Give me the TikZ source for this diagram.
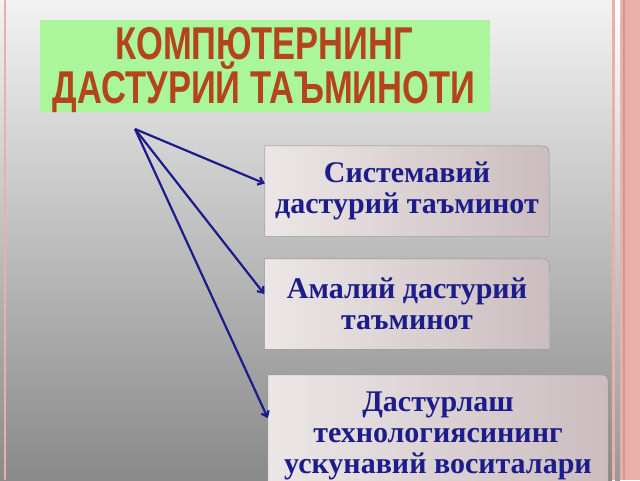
\documentclass[tikz,border=0pt]{standalone}
\usepackage{fontspec}
\setmainfont{Liberation Serif}
\newfontfamily\titlefont{Liberation Sans}
\usetikzlibrary{arrows.meta,backgrounds}

\definecolor{navy}{HTML}{1C1C8A}
\definecolor{rust}{HTML}{B4441B}
\definecolor{titlegreen}{HTML}{ABF59B}
\definecolor{rim}{HTML}{E8B0A8}
\definecolor{rimdark}{HTML}{D8948C}
\definecolor{boxlight}{HTML}{ECE6E7}
\definecolor{boxdark}{HTML}{CBBDBF}

\tikzset{
  card/.style={minimum width=#1, align=center, inner sep=0pt, text=navy,
    font=\bfseries\fontsize{30}{31}\selectfont},
  link/.style={navy, line width=2.2pt, -{Straight Barb[length=5pt,width=8pt]}},
}

\newcommand\cardpath[1]{(#1.south west) -- (#1.north west) -- ([shift={(-14,0)}]#1.north east)
  .. controls (#1.north east) .. ([shift={(0,14)}]#1.north east) -- (#1.south east) -- cycle}

\begin{document}
\begin{tikzpicture}[x=1pt,y=-1pt]
	\useasboundingbox (0,0) rectangle (640,480);
	\clip (0,0) rectangle (640,480);
		\node[card=284pt, minimum height=90pt] (sys) at (407,191) {Системавий\\дастурий таъминот};
		\node[card=285pt, minimum height=90pt] (app) at (407,304) {Амалий дастурий\\таъминот};
		\node[card=340pt, minimum height=122pt] (tool) at (438,436) {Дастурлаш\\технологиясининг\\ускунавий воситалари};
		\begin{scope}[on background layer]
			\shade[top color=black!5!white, bottom color=black!46] (0,0) rectangle (612,480);
			\fill[rim] (612,0) rectangle (640,480);
			\shade[top color=white, bottom color=black!40] (615,0) rectangle (620,480);
			\draw[rimdark, line width=1.5pt] (624,0) -- (624,480);
			\draw[rim, line width=2pt] (5,0) -- (5,480);
			\fill[titlegreen] (40,20) rectangle (490,112);
			\foreach \b in {sys,app,tool} {
				\fill[black, opacity=.3, shift={(3,3)}] \cardpath{\b};
				\shade[left color=boxlight, right color=boxdark, draw=gray!80] \cardpath{\b};
			}
		\end{scope}
		\node[text=rust, align=center, inner sep=0pt, xscale=0.75,
			font=\titlefont\bfseries\fontsize{46}{40}\selectfont] (head) at (264,70) {КОМПЮТЕРНИНГ\\ДАСТУРИЙ ТАЪМИНОТИ};
		\coordinate (src) at (135,129);
		\draw[link] (src) -- (sys.177);
		\draw[link] (src) -- (app.176);
		\draw[link] (src) -- (tool.174);
	\end{tikzpicture}
\end{document}
